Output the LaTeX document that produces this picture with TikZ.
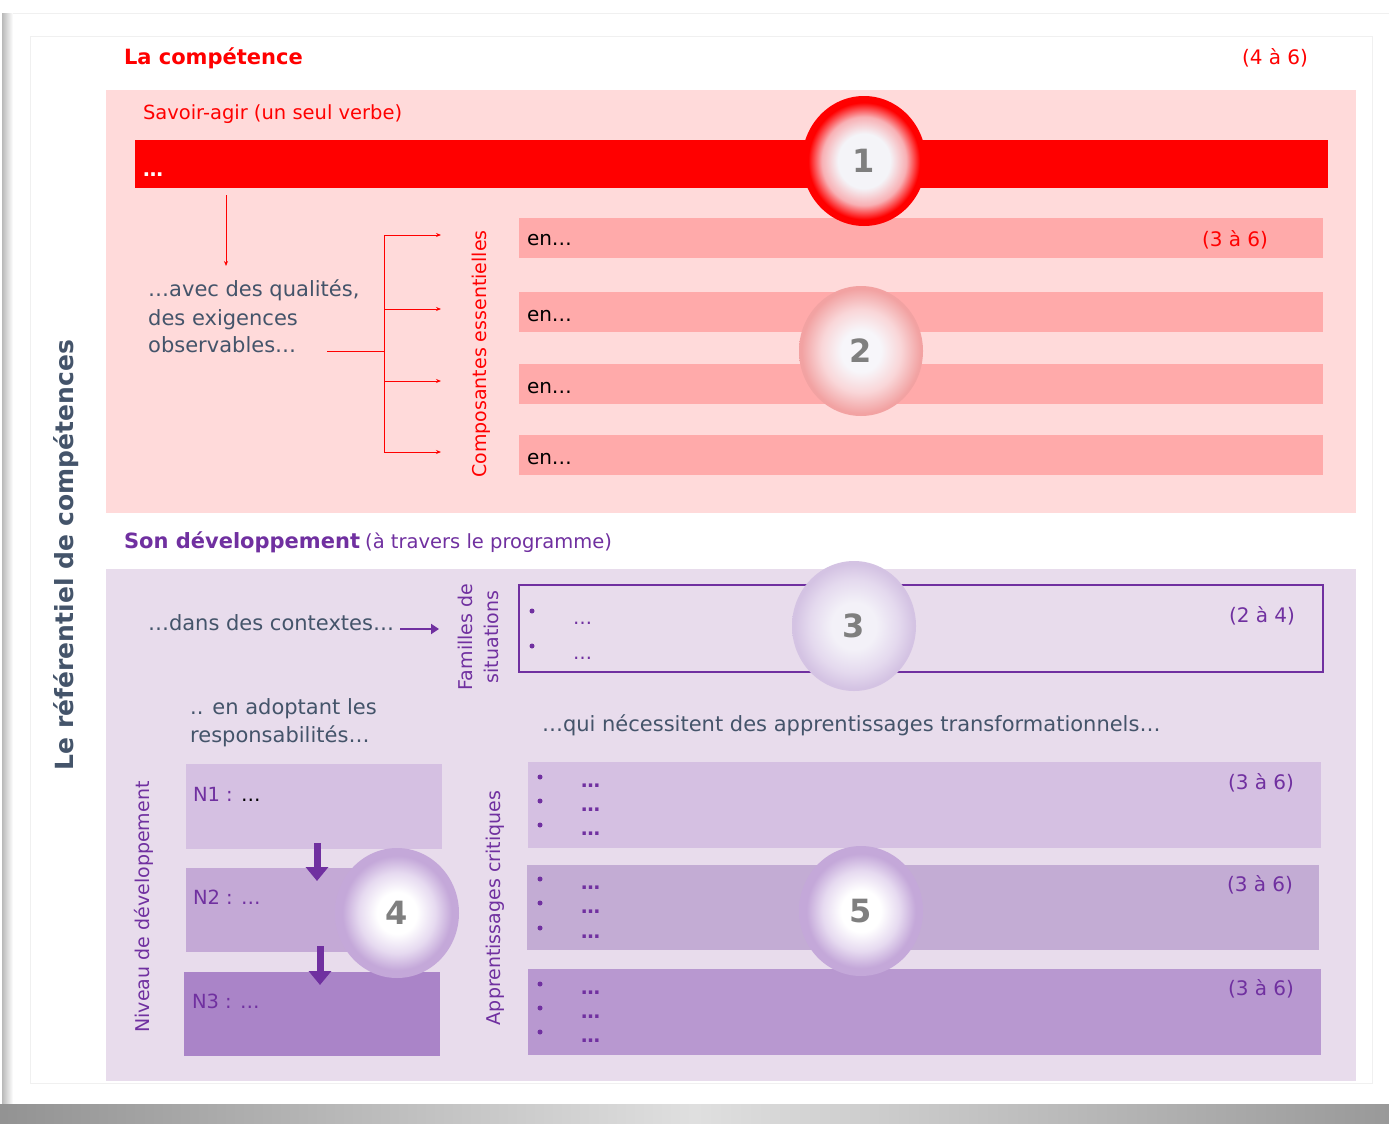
\documentclass[tikz,border=0pt]{standalone}
\usepackage{fontspec}
\setmainfont{DejaVu Sans}
\usetikzlibrary{arrows.meta,shapes.geometric}
\definecolor{redA}{HTML}{FF0000}
\definecolor{pinkbg}{HTML}{FFDADA}
\definecolor{pinkbar}{HTML}{FFAAAA}
\definecolor{lilacbg}{HTML}{E8DCEC}
\definecolor{purp}{HTML}{7030A0}
\definecolor{slate}{HTML}{44546A}
\definecolor{pA}{HTML}{D5C0E2}
\definecolor{pB}{HTML}{C3ACD4}
\definecolor{pC}{HTML}{B898D0}
\definecolor{nB}{HTML}{C4A9D6}
\definecolor{nC}{HTML}{AA84C8}
\definecolor{numgray}{HTML}{7F7F7F}
\definecolor{c1in}{HTML}{F4F4F8}
\definecolor{c1mid}{HTML}{F8B0B4}
\definecolor{c2in}{HTML}{F7F6FA}
\definecolor{c2mid}{HTML}{F9D6D8}
\definecolor{c2out}{HTML}{F2A2A2}
\definecolor{c3in}{HTML}{F3F1F8}
\definecolor{c3mid}{HTML}{E4D9EE}
\definecolor{c3out}{HTML}{D4C3E3}
\definecolor{c4mid}{HTML}{E6DAF0}
\definecolor{c4out}{HTML}{C4A8D9}
\pgfdeclareradialshading{ballone}{\pgfpoint{0bp}{0bp}}{color(0bp)=(c1in); color(10.5bp)=(c1in); color(17bp)=(c1mid); color(22.5bp)=(redA); color(50bp)=(redA)}
\pgfdeclareradialshading{balltwo}{\pgfpoint{0bp}{0bp}}{color(0bp)=(c2in); color(8bp)=(c2in); color(16bp)=(c2mid); color(24bp)=(c2out); color(50bp)=(c2out)}
\pgfdeclareradialshading{ballthree}{\pgfpoint{0bp}{0bp}}{color(0bp)=(c3in); color(9bp)=(c3in); color(18bp)=(c3mid); color(24bp)=(c3out); color(50bp)=(c3out)}
\pgfdeclareradialshading{ballfour}{\pgfpoint{0bp}{0bp}}{color(0bp)=(white); color(8bp)=(white); color(15.5bp)=(c4mid); color(22bp)=(c4out); color(50bp)=(c4out)}
\newcommand\fsz[2]{\fontsize{#1}{#2}\selectfont}
\begin{document}
\begin{tikzpicture}[x=1pt,y=-1pt,
  txt/.style={inner sep=0pt, outer sep=0pt, anchor=base west},
  box/.style={inner sep=0pt, outer sep=0pt, anchor=north west, draw=none},
  ball/.style={ellipse, minimum width=124pt, minimum height=130pt, inner sep=0pt, shade, font=\bfseries\fsz{32}{32}, text=numgray},
  thinarrow/.style={draw=redA, line width=0.9pt, -{Stealth[length=5pt,width=4pt]}},
  redline/.style={draw=redA, line width=0.9pt},
  bigarrow/.style={draw=purp, line width=7pt, -{Triangle[length=14pt,width=22pt]}},
  bulletdot/.style={circle, fill=purp, inner sep=0pt, minimum size=5pt},
  rottext/.style={rotate=90, inner sep=0pt},
]
\useasboundingbox (0,0) rectangle (1389,1124);
% card and shadow
\fill[white] (0,0) rectangle (1389,1124);
\shade[left color=gray!55, right color=white] (2,14) rectangle (13,1104);
\draw[gray!12, line width=1pt] (13,13.5) -- (1389,13.5);
\shade[left color=gray!85, right color=gray!80, middle color=gray!25] (0,1104) rectangle (1389,1124);
\draw[gray!12, line width=1pt] (30,37) rectangle (1372,1083);

% ---------- top part ----------
\node[txt, font=\bfseries\fsz{21}{25}, text=redA] (title1) at (124,65) {La compétence};
\node[txt, font=\fsz{20}{24}, text=redA] (cnt1) at (1242,65) {(4 à 6)};
\node[box, fill=pinkbg, minimum width=1250pt, minimum height=423pt] (pinkpanel) at (106,90) {};
\node[txt, font=\fsz{19.5}{24}, text=redA] (savoir) at (143,119) {Savoir-agir (un seul verbe)};
\node[box, fill=redA, minimum width=1193pt, minimum height=48pt] (redbar) at (135,140) {};
\node[txt, font=\bfseries\fsz{20}{24}, text=white] (redtxt) at (143,176) {…};

\node[box, fill=pinkbar, minimum width=804pt, minimum height=40pt] (en1) at (519,218) {};
\node[box, fill=pinkbar, minimum width=804pt, minimum height=40pt] (en2) at (519,292) {};
\node[box, fill=pinkbar, minimum width=804pt, minimum height=40pt] (en3) at (519,364) {};
\node[box, fill=pinkbar, minimum width=804pt, minimum height=40pt] (en4) at (519,435) {};
\node[txt, font=\fsz{20}{24}] (ent1) at (527,245) {en…};
\node[txt, font=\fsz{20}{24}] (ent2) at (527,321) {en…};
\node[txt, font=\fsz{20}{24}] (ent3) at (527,393) {en…};
\node[txt, font=\fsz{20}{24}] (ent4) at (527,464) {en…};
\node[txt, font=\fsz{20}{24}, text=redA] (cnt2) at (1202,246) {(3 à 6)};

\node[anchor=north west, inner sep=0pt, align=left, font=\fsz{21}{28}, text=slate] (qual) at (148,280)
  {…avec des qualités,\\des exigences\\observables…};
\node[rottext, font=\fsz{19}{24}, text=redA] (compo) at (481,354) {Composantes essentielles};

\coordinate (qa) at (226,195);
\coordinate (qb) at (226,266);
\draw[thinarrow] (qa) -- (qb);
\coordinate (obsend) at (327,351);
\coordinate (bj) at (384,351);
\coordinate (bt) at (384,235);
\coordinate (bb) at (384,452);
\coordinate (b2) at (384,309);
\coordinate (b3) at (384,381);
\coordinate (e1) at (441,235);
\coordinate (e2) at (441,309);
\coordinate (e3) at (441,381);
\coordinate (e4) at (441,452);
\draw[redline] (obsend) -- (bj);
\draw[redline] (bt) -- (bb);
\draw[thinarrow] (bt) -- (e1);
\draw[thinarrow] (b2) -- (e2);
\draw[thinarrow] (b3) -- (e3);
\draw[thinarrow] (bb) -- (e4);

\node[ball, shading=ballone] (c1) at (864,161) {1};
\node[ball, shading=balltwo] (c2) at (861,351) {2};

% ---------- bottom part ----------
\node[txt] (son) at (124,548) {{\bfseries\fsz{21}{25}\color{purp}Son développement}\hspace{2pt} {\fsz{19.5}{24}\color{purp}(à travers le programme)}};
\node[box, fill=lilacbg, minimum width=1250pt, minimum height=512pt] (lilacpanel) at (106,569) {};

\node[txt, font=\fsz{21}{26}, text=slate] (ctx) at (148,630) {…dans des contextes…};
\coordinate (ca) at (400,629);
\coordinate (cb) at (439,629);
\draw[draw=purp, line width=2.5pt, -{Triangle[length=8pt,width=10pt]}] (ca) -- (cb);
\node[rottext, align=center, font=\fsz{19}{26}, text=purp] (fam) at (478,637) {Familles de\\situations};

\node[box, fill=lilacbg, draw=purp, line width=1.5pt, minimum width=804pt, minimum height=87pt] (fbox) at (519,585) {};
\node[bulletdot] (fb1) at (532,611) {};
\node[bulletdot] (fb2) at (532,646) {};
\node[txt, font=\fsz{19}{24}, text=purp] (fd1) at (573,624) {…};
\node[txt, font=\fsz{19}{24}, text=purp] (fd2) at (573,659) {…};
\node[txt, font=\fsz{20}{24}, text=purp] (cnt3) at (1229,622) {(2 à 4)};
\node[ball, shading=ballthree] (c3) at (854,626) {3};

\node[anchor=north west, inner sep=0pt, align=left, font=\fsz{21}{28}, text=slate] (adopt) at (190,698)
  {.. en adoptant les\\responsabilités…};
\node[txt, font=\fsz{21}{26}, text=slate] (qui) at (542,731) {…qui nécessitent des apprentissages transformationnels…};

\node[rottext, font=\fsz{19}{24}, text=purp] (niv) at (144,907) {Niveau de développement};
\node[rottext, font=\fsz{19}{24}, text=purp] (appr) at (495,908) {Apprentissages critiques};

\node[box, fill=pA, minimum width=256pt, minimum height=85pt] (n1) at (186,764) {};
\node[box, fill=nB, minimum width=256pt, minimum height=84pt] (n2) at (186,868) {};
\node[box, fill=nC, minimum width=256pt, minimum height=84pt] (n3) at (184,972) {};
\node[txt, font=\fsz{19.5}{24}] (n1t) at (193,801) {\textcolor{purp}{N1 :} …};
\node[txt, font=\fsz{19.5}{24}, text=purp] (n2t) at (193,904) {N2 : …};
\node[txt, font=\fsz{19.5}{24}, text=purp] (n3t) at (192,1008) {N3 : …};
\coordinate (ar1a) at (317,843);
\coordinate (ar1b) at (317,881);
\coordinate (ar2a) at (320,946);
\coordinate (ar2b) at (320,985);
\draw[bigarrow] (ar1a) -- (ar1b);
\draw[bigarrow] (ar2a) -- (ar2b);
\node[ball, shading=ballfour] (c4) at (397,913) {4};

\node[box, fill=pA, minimum width=793pt, minimum height=86pt] (ba) at (528,762) {};
\node[box, fill=pB, minimum width=792pt, minimum height=85pt] (bbx) at (527,865) {};
\node[box, fill=pC, minimum width=793pt, minimum height=86pt] (bc) at (528,969) {};
\foreach \y [count=\i] in {777,801,825,879,903,928,984,1008,1032}{
  \node[bulletdot] (bl\i) at (540,\y) {};
  \node[txt, font=\bfseries\fsz{19}{24}, text=purp] (bd\i) at (581,\y+10) {…};
}
\node[txt, font=\fsz{20}{24}, text=purp] (cnt4) at (1228,789) {(3 à 6)};
\node[txt, font=\fsz{20}{24}, text=purp] (cnt5) at (1227,891) {(3 à 6)};
\node[txt, font=\fsz{20}{24}, text=purp] (cnt6) at (1228,995) {(3 à 6)};
\node[ball, shading=ballfour] (c5) at (861,911) {5};

\node[rottext, font=\bfseries\fsz{25}{30}, text=slate] (refl) at (66,555) {Le référentiel de compétences};
\end{tikzpicture}
\end{document}
